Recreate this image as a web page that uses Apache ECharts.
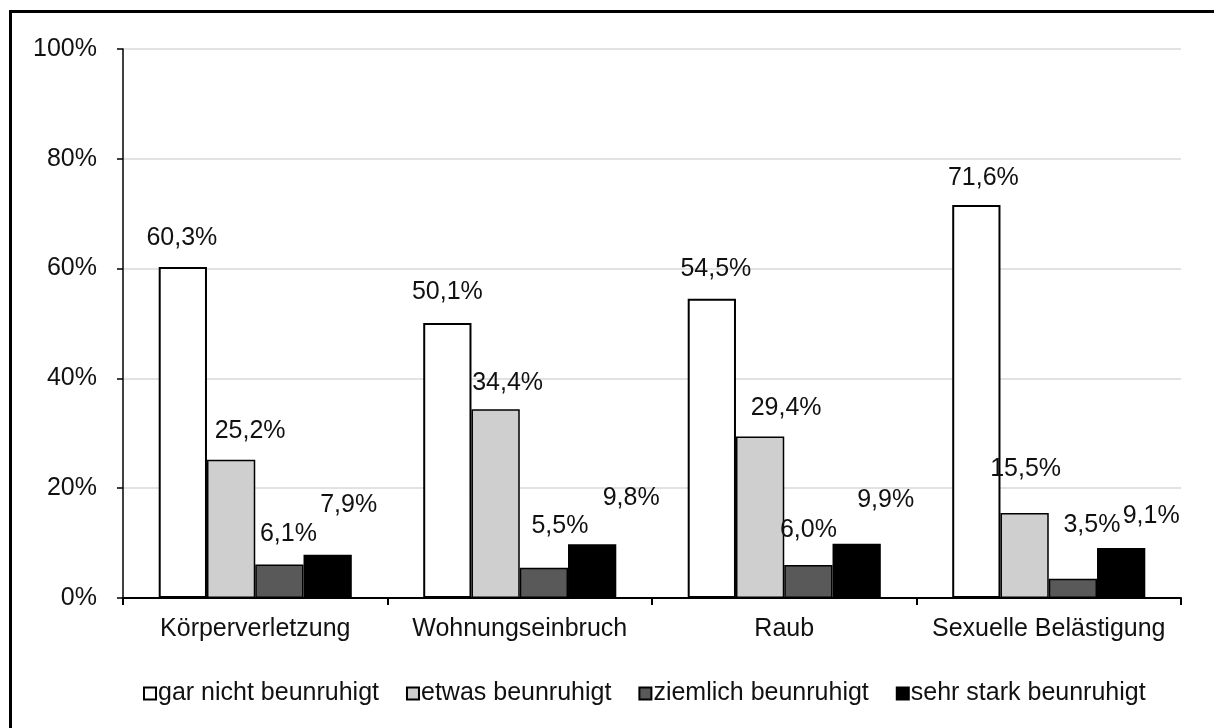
<!DOCTYPE html>
<html>
<head>
<meta charset="utf-8">
<title>Beunruhigung nach Deliktart</title>
<script src="https://cdn.jsdelivr.net/npm/echarts@6/dist/echarts.min.js"></script>
<style>
  html, body { margin: 0; padding: 0; background: #fff; overflow: hidden; }
  #chart { width: 1214px; height: 728px; }
  #frame {
    position: absolute; left: 9px; top: 10px; width: 1220px; height: 740px;
    border-left: 3px solid #000; border-top: 3px solid #000; pointer-events: none;
  }
</style>
</head>
<body>
<div id="chart"></div>
<div id="frame"></div>
<script>
// Deliktarten (x-Achse)
const categories = ['Körperverletzung', 'Wohnungseinbruch', 'Raub', 'Sexuelle Belästigung'];

// Antwortkategorien (Legende)
const seriesNames = ['gar nicht beunruhigt', 'etwas beunruhigt', 'ziemlich beunruhigt', 'sehr stark beunruhigt'];

// Anteile in Prozent je Deliktart
const garNicht   = [60.3, 50.1, 54.5, 71.6];
const etwas      = [25.2, 34.4, 29.4, 15.5];
const ziemlich   = [6.1, 5.5, 6.0, 3.5];
const sehrStark  = [7.9, 9.8, 9.9, 9.1];

// y-Achse
const yTicks = [0, 20, 40, 60, 80, 100];

// Darstellung: Füllfarben und Verschiebung der Wertbeschriftungen [dx, Abstand über Balken]
const fills = ['#ffffff', '#cfcfcf', '#595959', '#000000'];
const labelNudge = [
  [[-1, 28], [0, 30], [4, 29], [7, 26]],
  [[19, 28], [12, 26], [26, 28], [1, 43]],
  [[9, 30], [16, 41], [0, 34], [19, 53]],
  [[21, 49], [39, 46], [29, 43], [30, 31]]
];

const values = [garNicht, etwas, ziemlich, sehrStark];
const FONT = '"Liberation Sans", Arial, sans-serif';

const fmt = v => v.toFixed(1).replace('.', ',') + '%';

const series = values.map((vals, s) => ({
  name: seriesNames[s],
  type: 'bar',
  barGap: '0%',
  barCategoryGap: '27%',
  itemStyle: { color: fills[s], borderColor: '#000', borderWidth: s === 0 ? 2 : 1.5 },
  data: vals.map((v, i) => ({
    value: v,
    label: { offset: [labelNudge[s][i][0], -(labelNudge[s][i][1] - 12)] }
  })),
  label: {
    show: true,
    position: 'top',
    distance: 0,
    fontFamily: FONT,
    fontSize: 25,
    color: '#111',
    formatter: p => fmt(p.value)
  },
  emphasis: { disabled: true }
}));

const chart = echarts.init(document.getElementById('chart'), null, { renderer: 'canvas' });
chart.setOption({
  backgroundColor: '#fff',
  animation: false,
  textStyle: { fontFamily: FONT },
  grid: { left: 123, right: 33, top: 49, bottom: 130, containLabel: false },
  legend: {
    data: seriesNames,
    left: 138,
    top: 676,
    icon: 'rect',
    itemWidth: 12,
    itemHeight: 12,
    itemGap: 27,
    textStyle: { fontFamily: FONT, fontSize: 25, color: '#111', padding: [0, 0, 0, -3] },
    selectedMode: false
  },
  xAxis: {
    type: 'category',
    data: categories,
    axisLine: { lineStyle: { color: '#000', width: 2 } },
    axisTick: { show: true, interval: 0, length: 7, lineStyle: { color: '#000', width: 2 } },
    axisLabel: { interval: 0, fontFamily: FONT, fontSize: 25, color: '#111', margin: 19 }
  },
  yAxis: {
    type: 'value',
    min: yTicks[0],
    max: yTicks[yTicks.length - 1],
    interval: yTicks[1] - yTicks[0],
    axisLine: { show: true, lineStyle: { color: '#000', width: 1.5 } },
    axisTick: { show: true, length: 6, lineStyle: { color: '#000', width: 1.5 } },
    axisLabel: { fontFamily: FONT, fontSize: 25, color: '#111', margin: 26, formatter: '{value}%' },
    splitLine: { show: true, lineStyle: { color: '#d9d9d9', width: 1.5 } }
  },
  series: series
});
</script>
</body>
</html>
